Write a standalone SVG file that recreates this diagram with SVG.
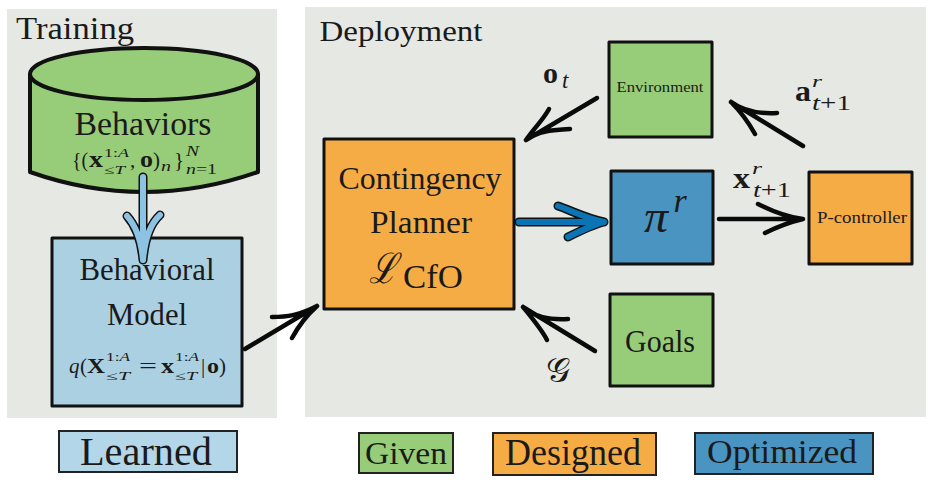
<svg xmlns="http://www.w3.org/2000/svg" width="942" height="493" viewBox="0 0 942 493">
<style>
text{font-family:"Liberation Serif","Times New Roman",serif;fill:#1a1a1a;text-anchor:middle}
.s{text-anchor:start}
.panel{fill:#e6e8e4}
.box{stroke:#111;stroke-width:3;stroke-linejoin:round}
.leg{stroke:#222;stroke-width:2}
.g{fill:#97cd78}.o{fill:#f6ac45}.b{fill:#abd0e2}.d{fill:#4a94c1}
.ink{fill:none;stroke:#0a0a0a;stroke-width:4.500;stroke-linecap:round;stroke-linejoin:round}
.m{font-style:italic}
.bf{font-weight:bold}
.cal{font-family:"DejaVu Serif","Liberation Serif",serif}
</style>
<rect width="942" height="493" fill="#fff"/>
<rect class="panel" x="7" y="9" width="270" height="409"/>
<rect class="panel" x="305" y="7" width="621" height="410"/>
<text x="75" y="39" font-size="32" textLength="118" lengthAdjust="spacingAndGlyphs">Training</text>
<text x="401" y="41" font-size="30" textLength="163" lengthAdjust="spacingAndGlyphs">Deployment</text>

<g id="behaviors">
<path class="box g" style="stroke-width:4" d="M30 74V172Q144 212 258 172V74Z"/>
<ellipse class="box g" style="stroke-width:4" cx="144" cy="74" rx="114" ry="26"/>
<text x="143" y="135" font-size="33" textLength="137" lengthAdjust="spacingAndGlyphs">Behaviors</text>
<text class="s" x="72" y="167" font-size="21" textLength="16" lengthAdjust="spacingAndGlyphs">{(</text>
<text class="s bf" x="89" y="167" font-size="23" textLength="14" lengthAdjust="spacingAndGlyphs">x</text>
<text class="s" x="104" y="157" font-size="13" textLength="25" lengthAdjust="spacingAndGlyphs">1:<tspan class="m">A</tspan></text>
<text class="s m" x="104" y="174" font-size="12" textLength="21" lengthAdjust="spacingAndGlyphs">≤T</text>
<text class="s" x="130" y="167" font-size="21">,</text>
<text class="s bf" x="140" y="167" font-size="23" textLength="13" lengthAdjust="spacingAndGlyphs">o</text>
<text class="s" x="153" y="167" font-size="21">)</text>
<text class="s m" x="161" y="171" font-size="15" textLength="10" lengthAdjust="spacingAndGlyphs">n</text>
<text class="s" x="174" y="167" font-size="21">}</text>
<text class="s m" x="186" y="156" font-size="14" textLength="13" lengthAdjust="spacingAndGlyphs">N</text>
<text class="s" x="186" y="174" font-size="14" textLength="31" lengthAdjust="spacingAndGlyphs"><tspan class="m">n</tspan>=1</text>
</g>

<g id="behavioral-model">
<rect class="box b" x="52" y="238" width="190" height="168"/>
<text x="147" y="280" font-size="31" textLength="135" lengthAdjust="spacingAndGlyphs">Behavioral</text>
<text x="147" y="325" font-size="31" textLength="80" lengthAdjust="spacingAndGlyphs">Model</text>
<text class="s m" x="69" y="373" font-size="21">q</text>
<text class="s" x="80" y="373" font-size="21">(</text>
<text class="s bf" x="87" y="373" font-size="22" textLength="18" lengthAdjust="spacingAndGlyphs">X</text>
<text class="s" x="106" y="361" font-size="13" textLength="24" lengthAdjust="spacingAndGlyphs">1:<tspan class="m">A</tspan></text>
<text class="s m" x="106" y="380" font-size="12" textLength="24" lengthAdjust="spacingAndGlyphs">≤T</text>
<text class="s" x="139" y="373" font-size="21" textLength="18" lengthAdjust="spacingAndGlyphs">=</text>
<text class="s bf" x="161" y="373" font-size="22" textLength="13" lengthAdjust="spacingAndGlyphs">x</text>
<text class="s" x="175" y="361" font-size="13" textLength="24" lengthAdjust="spacingAndGlyphs">1:<tspan class="m">A</tspan></text>
<text class="s m" x="175" y="380" font-size="12" textLength="22" lengthAdjust="spacingAndGlyphs">≤T</text>
<text class="s" x="201" y="373" font-size="21">|</text>
<text class="s bf" x="207" y="373" font-size="22" textLength="12" lengthAdjust="spacingAndGlyphs">o</text>
<text class="s" x="219" y="373" font-size="21">)</text>
</g>

<g id="contingency-planner">
<rect class="box o" x="324" y="139" width="190" height="170"/>
<text x="420" y="189" font-size="32" textLength="163" lengthAdjust="spacingAndGlyphs">Contingency</text>
<text x="421" y="233" font-size="32" textLength="102" lengthAdjust="spacingAndGlyphs">Planner</text>
<text class="cal m" x="383" y="283" font-size="42" textLength="28" lengthAdjust="spacingAndGlyphs">ℒ</text>
<text class="s" x="403" y="288" font-size="33" textLength="60" lengthAdjust="spacingAndGlyphs">CfO</text>
</g>

<g id="environment">
<rect class="box g" x="609" y="42" width="103" height="95"/>
<text x="660" y="92" font-size="14" textLength="87" lengthAdjust="spacingAndGlyphs">Environment</text>
</g>

<g id="policy">
<rect class="box d" x="611" y="171" width="102" height="93"/>
<text class="m" x="656" y="232" font-size="46" textLength="24" lengthAdjust="spacingAndGlyphs">π</text>
<text class="m" x="680" y="212" font-size="34">r</text>
</g>

<g id="p-controller">
<rect class="box o" x="809" y="172" width="103" height="92"/>
<text x="862" y="223" font-size="16" textLength="90" lengthAdjust="spacingAndGlyphs">P-controller</text>
</g>

<g id="goals">
<rect class="box g" x="610" y="294" width="103" height="92"/>
<text x="660" y="352" font-size="31" textLength="70" lengthAdjust="spacingAndGlyphs">Goals</text>
</g>

<g id="connectors">
<path d="M143 177V256M143 260C141 238 135 225 127 216M143 260C145 238 150 224 160 215" fill="none" stroke="#111" stroke-width="9" stroke-linecap="round"/>
<path d="M143 177V256M143 260C141 238 135 225 127 216M143 260C145 238 150 224 160 215" fill="none" stroke="#8cc3e2" stroke-width="6" stroke-linecap="round"/>
<path class="ink" d="M245 349L317 306M317 306C300 315 287 317 272 317M317 306C307 315 298 327 292 338"/>
<path class="ink" d="M597 98L526 140M526 140C540 130 555 130 570 129M526 140C535 127 543 120 549 109"/>
<path class="ink" d="M803 146L731 102M731 102C745 112 760 114 777 113M731 102C742 113 750 125 755 134"/>
<path class="ink" d="M595 351L523 307M523 307C535 317 548 320 568 319M523 307C532 318 542 330 547 340"/>
<path class="ink" d="M719 219H803M803 219C785 217 770 210 758 204M803 219C790 222 775 228 765 233"/>
<path d="M519 222H604M604 222C585 218 570 210 558 206M604 222C592 225 578 232 568 237" fill="none" stroke="#111" stroke-width="9" stroke-linecap="round"/>
<path d="M519 222H604M604 222C585 218 570 210 558 206M604 222C592 225 578 232 568 237" fill="none" stroke="#0a74b5" stroke-width="6" stroke-linecap="round"/>
</g>

<g id="connector-labels">
<text class="s bf" x="543" y="83" font-size="30" textLength="15" lengthAdjust="spacingAndGlyphs">o</text>
<text class="s m" x="562" y="88" font-size="23">t</text>
<text class="s bf" x="795" y="101" font-size="30" textLength="16" lengthAdjust="spacingAndGlyphs">a</text>
<text class="s m" x="812" y="87" font-size="17" textLength="10" lengthAdjust="spacingAndGlyphs">r</text>
<text class="s" x="812" y="110" font-size="20" textLength="39" lengthAdjust="spacingAndGlyphs"><tspan class="m">t</tspan>+1</text>
<text class="s bf" x="733" y="188" font-size="30" textLength="17" lengthAdjust="spacingAndGlyphs">x</text>
<text class="s m" x="752" y="174" font-size="17" textLength="10" lengthAdjust="spacingAndGlyphs">r</text>
<text class="s" x="753" y="197" font-size="20" textLength="38" lengthAdjust="spacingAndGlyphs"><tspan class="m">t</tspan>+1</text>
<text class="cal" x="558" y="382" font-size="34" textLength="24" lengthAdjust="spacingAndGlyphs">𝒢</text>
</g>

<g id="legend-learned">
<rect class="leg b" x="59" y="431" width="178" height="41" style="fill:#b3d6e9"/>
<text x="146" y="465" font-size="39" textLength="132" lengthAdjust="spacingAndGlyphs">Learned</text>
</g>
<g id="legend-given">
<rect class="leg g" x="359" y="433" width="94" height="40"/>
<text x="406" y="464" font-size="32" textLength="82" lengthAdjust="spacingAndGlyphs">Given</text>
</g>
<g id="legend-designed">
<rect class="leg o" x="493" y="433" width="163" height="42"/>
<text x="573" y="465" font-size="37" textLength="136" lengthAdjust="spacingAndGlyphs">Designed</text>
</g>
<g id="legend-optimized">
<rect class="leg d" x="695" y="433" width="178" height="41"/>
<text x="782" y="463" font-size="34" textLength="150" lengthAdjust="spacingAndGlyphs">Optimized</text>
</g>
</svg>
